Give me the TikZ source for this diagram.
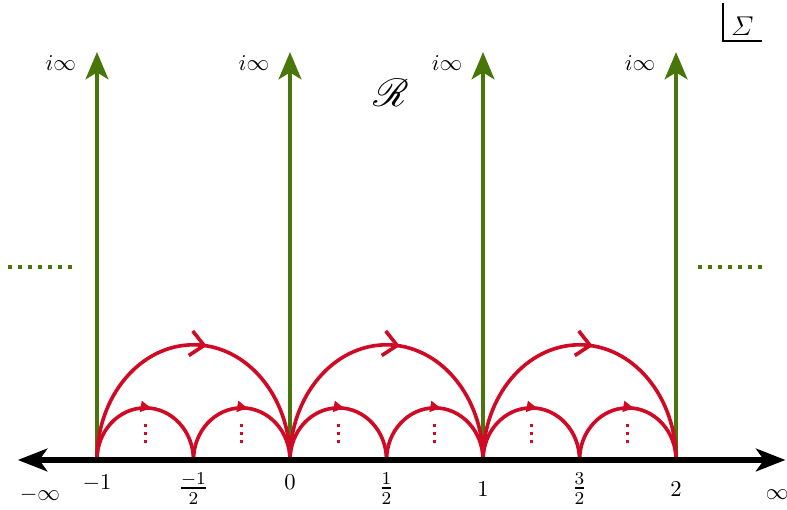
\documentclass[tikz,border=0pt]{standalone}
\usepackage{amsmath}
\usepackage{mathrsfs}
\usepackage{tikz}
\usetikzlibrary{arrows.meta, positioning, calc, decorations.markings}

\definecolor{lineGreen}{RGB}{72,118,10}
\definecolor{arcRed}{RGB}{208,10,36}

\begin{document}
\begin{tikzpicture}[>=latex,
    vline/.style={line width=2.1pt, lineGreen, -{Stealth[length=12pt, width=10pt, inset=3pt]}},
    bigarc/.style={arcRed, line width=1.6pt, postaction={decorate},
        decoration={markings, mark=at position 0.54 with {\arrow{Straight Barb[length=6pt, width=11pt]}}}},
    smallarc/.style={arcRed, line width=1.6pt, postaction={decorate},
        decoration={markings, mark=at position 0.55 with {\arrow{Latex[length=5.5pt, width=5.5pt]}}}},
    reddots/.style={arcRed, line width=1.4pt, dash pattern=on 1.4pt off 2.2pt},
    greendots/.style={lineGreen, line width=1.8pt, dash pattern=on 1.8pt off 2.6pt},
]
    \useasboundingbox (-4.507, -0.777) rectangle (7.724, 7.149);

    \pgfmathsetmacro{\u}{3}      % one unit on the real axis
    \pgfmathsetmacro{\hgt}{6.34}
    \pgfmathsetmacro{\rbig}{1.79}
    \pgfmathsetmacro{\rsmall}{0.81}

    \coordinate (L) at (-4.23, 0);
    \coordinate (R) at (7.70, 0);

    % vertical lines up to i infinity
    \foreach \k/\n in {-1/a, 0/b, 1/c, 2/d} {
        \coordinate (B\n) at (\k*\u, 0);
        \coordinate (T\n) at (\k*\u, \hgt);
        \draw[vline] (B\n) -- (T\n);
        \node[anchor=east, xshift=-0.2cm, yshift=-0.17cm] (I\n) at (T\n) {$i\infty$};
    }

    % big arcs
    \foreach \n in {a, b, c} {
        \draw[bigarc] (B\n) arc[start angle=180, end angle=0, x radius=0.5*\u, y radius=\rbig];
    }

    % small arcs and the dots below them
    \foreach \x in {-1, -0.5, 0, 0.5, 1, 1.5} {
        \coordinate (S) at (\x*\u, 0);
        \draw[smallarc] (S) arc[start angle=180, end angle=0, x radius=0.25*\u, y radius=\rsmall];
        \draw[reddots] ($(S)+(0.25*\u, 0.26)$) -- ($(S)+(0.25*\u, 0.62)$);
    }

    % the strip goes on
    \draw[greendots] (-4.38, 3.0) -- (-3.34, 3.0);
    \draw[greendots] (6.34, 3.0) -- (7.38, 3.0);

    % real axis
    \draw[line width=2.6pt, {Stealth[length=13pt, width=10pt, inset=3.5pt]}-{Stealth[length=13pt, width=10pt, inset=3.5pt]}] (L) -- (R);

    \node (mi) at (-3.885, -0.54) {$-\infty$};
    \node (pi) at (7.57, -0.54) {$\infty$};
    \node (m1) at (-3, -0.36) {$-1$};
    \node[font=\large] (mh) at (-1.5, -0.44) {$\frac{-1}{2}$};
    \node (z0) at (0, -0.34) {$0$};
    \node[font=\large] (ph) at (1.5, -0.44) {$\frac{1}{2}$};
    \node (p1) at (3, -0.46) {$1$};
    \node[font=\large] (p3) at (4.5, -0.44) {$\frac{3}{2}$};
    \node (p2) at (6, -0.46) {$2$};

    \node (reg) at (1.57, 5.70) {\LARGE $\mathscr{R}$};

    % corner label
    \node (sig) at (7.03, 6.74) {\large $\varSigma$};
    \draw[line width=0.6pt] (6.73, 7.10) -- (6.73, 6.51) -- (7.33, 6.51);

\end{tikzpicture}
\end{document}
